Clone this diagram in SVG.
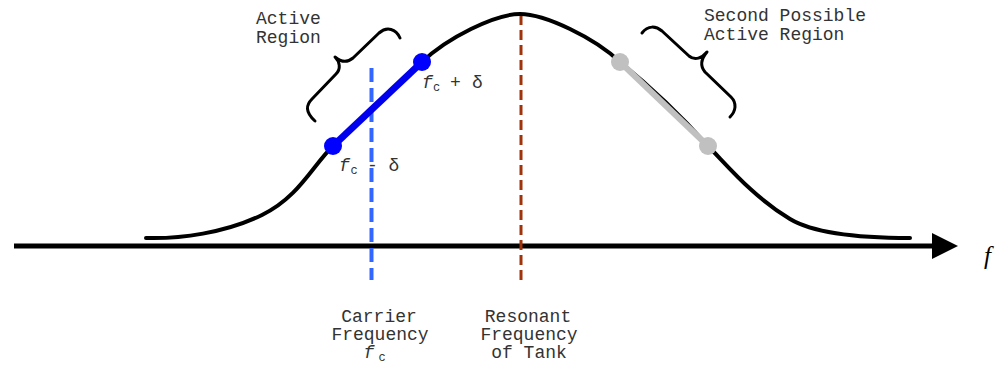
<svg xmlns="http://www.w3.org/2000/svg" width="1007" height="366" viewBox="0 0 1007 366">
<style>
.lbl{font-family:"Liberation Mono","DejaVu Sans Mono",monospace;font-size:18px;fill:#333}
.mid{text-anchor:middle}
.it{font-style:italic}
.sub{font-size:12px}
.brace{fill:none;stroke:#000;stroke-width:3;stroke-linecap:round;stroke-linejoin:round}
</style>
<rect width="1007" height="366" fill="#fff"/>
<g id="axis">
<line x1="14" y1="246" x2="935" y2="246" stroke="#000" stroke-width="5"/>
<polygon points="932,233 958,246 932,259" fill="#000"/>
<text x="984" y="264" font-family="Liberation Serif,serif" font-style="italic" font-size="25" fill="#000">f</text>
</g>
<g id="connectors">
<line id="carrier-line" x1="371.5" y1="68" x2="371.5" y2="280" stroke="#3366ff" stroke-width="4" stroke-dasharray="14,6"/>
<line id="resonant-line" x1="521" y1="15" x2="521" y2="280" stroke="#a0330a" stroke-width="3" stroke-dasharray="10,5"/>
</g>
<g id="curve">
<path d="M146,238 C180,239 225,233 262,215 C299,197 313,165 333,146 L422,62 C447,38 495,14 520,14 C545,14 595,38 620,62 Q667.5,100.4 708,146 C727,165 752,196 790,219 C815,234 860,238 910,238" fill="none" stroke="#000" stroke-width="4" stroke-linecap="round"/>
</g>
<g id="active-region">
<line x1="333" y1="146" x2="422" y2="62" stroke="#0000ee" stroke-width="7"/>
<circle cx="333" cy="146" r="9" fill="#0000ff"/>
<circle cx="422" cy="62" r="9" fill="#0000ff"/>
</g>
<g id="second-region">
<line x1="620" y1="62" x2="708" y2="146" stroke="#c0c0c0" stroke-width="6"/>
<circle cx="620" cy="62" r="9" fill="#c0c0c0"/>
<circle cx="708" cy="146" r="9" fill="#c0c0c0"/>
</g>
<g id="brace-left">
<path class="brace" d="M315,121 C305,112 306,105 312,99 L336,74 C341,69 340,62 335,57 C341,62 347,63 353,58 L379,33 C387,26 396,29 400,38"/>
<text class="lbl" x="256" y="24">Active</text>
<text class="lbl" x="256" y="43">Region</text>
</g>
<g id="brace-right">
<path class="brace" d="M642,33 C648,25 656,26 662,31 L689,56 C695,61 702,58 707,52 C701,59 700,66 705,72 L731,97 C737,103 736,111 730,117"/>
<text class="lbl" x="704" y="21">Second Possible</text>
<text class="lbl" x="704" y="40">Active Region</text>
</g>
<g id="label-plus">
<text class="lbl mid it" x="427.5" y="88">f</text>
<text class="lbl mid sub" x="436.5" y="91">c</text>
<text class="lbl mid" x="455.5" y="88">+</text>
<text class="lbl mid" x="477.5" y="88">δ</text>
</g>
<g id="label-minus">
<text class="lbl mid it" x="344.5" y="171">f</text>
<text class="lbl mid sub" x="354" y="174">c</text>
<text class="lbl mid" x="372.5" y="171">-</text>
<text class="lbl mid" x="394" y="171">δ</text>
</g>
<g id="carrier-label">
<text class="lbl mid" x="379" y="322">Carrier</text>
<text class="lbl mid" x="380" y="340">Frequency</text>
<text class="lbl mid it" x="369" y="358">f</text>
<text class="lbl mid sub" x="382" y="361">c</text>
</g>
<g id="resonant-label">
<text class="lbl mid" x="528" y="322">Resonant</text>
<text class="lbl mid" x="529" y="340">Frequency</text>
<text class="lbl mid" x="529" y="358">of Tank</text>
</g>
</svg>
